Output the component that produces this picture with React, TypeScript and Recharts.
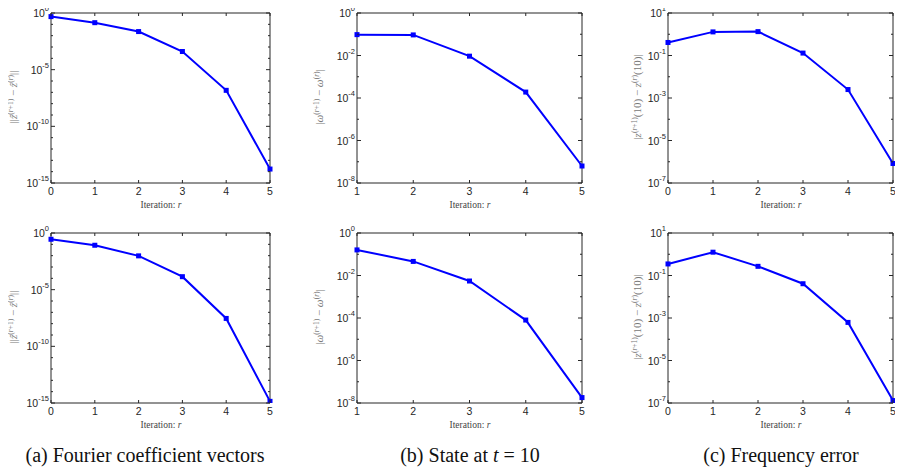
import React from "react"
import { LineChart, Line, XAxis, YAxis } from "recharts"

// iteration indices
const itersFrom0 = [0, 1, 2, 3, 4, 5]
const itersFrom1 = [1, 2, 3, 4, 5]

// top row
const fourierTop = [0.48, 0.14, 0.023, 4e-4, 1.5e-7, 1.7e-14]
const stateTop = [0.096, 0.093, 0.0093, 1.9e-4, 6.3e-8]
const freqTop = [0.41, 1.29, 1.33, 0.13, 2.5e-3, 8.3e-7]

// bottom row
const fourierBottom = [0.28, 0.083, 0.0096, 1.4e-4, 2.9e-8, 1.4e-15]
const stateBottom = [0.16, 0.046, 0.0055, 8e-5, 1.8e-8]
const freqBottom = [0.35, 1.25, 0.27, 0.041, 6.2e-4, 1.3e-7]

// y tick exponents (every decade gets a tick, only these are labelled)
const fourierExp = [0, -5, -10, -15]
const stateExp = [0, -2, -4, -6, -8]
const freqExp = [1, -1, -3, -5, -7]

const captions = ["(a) Fourier coefficient vectors", "(b) State at ", "(c) Frequency error"]

const axisColor = "#262626"
const blue = "#0000ff"
const tickFont = "'Liberation Sans', Arial, sans-serif"
const serif = "'Liberation Serif', 'Times New Roman', serif"

const decades = (hi: number, lo: number) => {
  const out: number[] = []
  for (let e = hi; e >= lo; e--) out.push(Math.pow(10, e))
  return out
}

const Square = (props: any) => {
  const { cx, cy } = props
  if (cx == null || cy == null) return null
  return <rect x={cx - 2.5} y={cy - 2.5} width={5} height={5} fill={blue} />
}

const XTick = (props: any) => {
  const { x, y, payload } = props
  return (
    <g>
      <line x1={x} x2={x} y1={y} y2={y - 3} stroke={axisColor} />
      <text x={x} y={y + 12} textAnchor="middle" fontSize={10.5} fontFamily={tickFont} fill={axisColor}>
        {payload.value}
      </text>
    </g>
  )
}

const XTickTop = (props: any) => {
  const { x, y } = props
  return <line x1={x} x2={x} y1={y} y2={y + 3} stroke={axisColor} />
}

const makeYTick = (labelled: number[]) => (props: any) => {
  const { x, y, payload } = props
  const e = Math.round(Math.log10(payload.value))
  const show = labelled.includes(e)
  return (
    <g>
      <line x1={x} x2={x + (show ? 4 : 2)} y1={y} y2={y} stroke={axisColor} />
      {show && (
        <text x={x - 2} y={y + 4} textAnchor="end" fontSize={10.5} fontFamily={tickFont} fill={axisColor}>
          10<tspan dy={-6} fontSize={7.5}>{e}</tspan>
        </text>
      )}
    </g>
  )
}

const makeYTickRight = (labelled: number[]) => (props: any) => {
  const { x, y, payload } = props
  const e = Math.round(Math.log10(payload.value))
  const show = labelled.includes(e)
  return <line x1={x} x2={x - (show ? 4 : 2)} y1={y} y2={y} stroke={axisColor} />
}

type PanelProps = {
  iters: number[]
  values: number[]
  exps: number[]
  left: number
  right: number
  top: number
}

const Panel = ({ iters, values, exps, left, right, top }: PanelProps) => {
  const yw = 51
  const xh = 20
  const plotH = 171
  const pad = 12
  const data = iters.map((r, i) => ({ r, v: values[i] }))
  const hi = exps[0]
  const lo = exps[exps.length - 1]
  const ticks = decades(hi, lo)
  const domain = [Math.pow(10, lo), Math.pow(10, hi)]
  const xDomain = [iters[0], iters[iters.length - 1]]
  return (
    <div style={{ position: "absolute", left: left - yw, top: top - pad }}>
      <LineChart
        width={yw + (right - left) + 8}
        height={pad + plotH + xh}
        data={data}
        margin={{ top: pad, right: 8, bottom: 0, left: 0 }}
      >
        <XAxis
          xAxisId="b"
          dataKey="r"
          type="number"
          domain={xDomain}
          ticks={iters}
          interval={0}
          height={xh}
          tickSize={0}
          tickMargin={0}
          tickLine={false}
          tick={<XTick />}
          axisLine={{ stroke: axisColor }}
        />
        <XAxis
          xAxisId="t"
          orientation="top"
          dataKey="r"
          type="number"
          domain={xDomain}
          ticks={iters}
          interval={0}
          height={1}
          tickSize={0}
          tickMargin={0}
          tickLine={false}
          tick={<XTickTop />}
          axisLine={{ stroke: axisColor }}
        />
        <YAxis
          yAxisId="l"
          scale="log"
          domain={domain}
          ticks={ticks}
          interval={0}
          width={yw}
          tickSize={0}
          tickMargin={0}
          tickLine={false}
          tick={makeYTick(exps)}
          axisLine={{ stroke: axisColor }}
          allowDataOverflow
        />
        <YAxis
          yAxisId="r"
          orientation="right"
          scale="log"
          domain={domain}
          ticks={ticks}
          interval={0}
          width={1}
          tickSize={0}
          tickMargin={0}
          tickLine={false}
          tick={makeYTickRight(exps)}
          axisLine={{ stroke: axisColor }}
          allowDataOverflow
        />
        {/* invisible series so the top/right frame axes are attached */}
        <Line
          xAxisId="t"
          yAxisId="r"
          dataKey="v"
          stroke="none"
          dot={false}
          activeDot={false}
          isAnimationActive={false}
        />
        <Line
          xAxisId="b"
          yAxisId="l"
          dataKey="v"
          stroke={blue}
          strokeWidth={2}
          dot={<Square />}
          isAnimationActive={false}
        />
      </LineChart>
    </div>
  )
}

const Sup = ({ children }: { children: React.ReactNode }) => (
  <sup style={{ fontSize: 7.5, verticalAlign: 4 }}>{children}</sup>
)

const YLabel = ({ x, cy, children }: { x: number; cy: number; children: React.ReactNode }) => (
  <div
    style={{
      position: "absolute",
      left: x,
      top: cy,
      transform: "translate(-50%, -50%) rotate(-90deg)",
      whiteSpace: "nowrap",
      fontFamily: serif,
      fontSize: 11,
      color: "#777",
      lineHeight: "12px",
    }}
  >
    {children}
  </div>
)

const XLabel = ({ cx, cy }: { cx: number; cy: number }) => (
  <div
    style={{
      position: "absolute",
      left: cx,
      top: cy,
      transform: "translate(-50%, -50%)",
      whiteSpace: "nowrap",
      fontFamily: serif,
      fontSize: 9.5,
      color: "#444",
    }}
  >
    Iteration: <i>r</i>
  </div>
)

const cols = [
  { left: 51, right: 271, ylx: 12 },
  { left: 357, right: 583, ylx: 318 },
  { left: 668, right: 894, ylx: 636 },
]
const rows = [12, 232]

export default function App() {
  const zLabel = (
    <span>
      ||<i>ẑ</i><Sup>(<i>r</i>+1)</Sup> − <i>ẑ</i><Sup>(<i>r</i>)</Sup>||
    </span>
  )
  const wLabel = (
    <span>
      |<i>ω</i><Sup>(<i>r</i>+1)</Sup> − <i>ω</i><Sup>(<i>r</i>)</Sup>|
    </span>
  )
  const fLabel = (
    <span>
      |<i>z</i><Sup>(<i>r</i>+1)</Sup>(10) − <i>z</i><Sup>(<i>r</i>)</Sup>(10)|
    </span>
  )
  const series = [
    [fourierTop, stateTop, freqTop],
    [fourierBottom, stateBottom, freqBottom],
  ]
  const itersByCol = [itersFrom0, itersFrom1, itersFrom0]
  const expsByCol = [fourierExp, stateExp, freqExp]
  const labels = [zLabel, wLabel, fLabel]

  return (
    <div style={{ position: "relative", width: 903, height: 475, margin: -8, background: "#fff", overflow: "hidden" }}>
      {rows.map((top, ri) =>
        cols.map((c, ci) => (
          <React.Fragment key={`${ri}-${ci}`}>
            <Panel
              iters={itersByCol[ci]}
              values={series[ri][ci]}
              exps={expsByCol[ci]}
              left={c.left}
              right={c.right}
              top={top}
            />
            <YLabel x={c.ylx} cy={top + 85}>{labels[ci]}</YLabel>
            <XLabel cx={(c.left + c.right) / 2} cy={top + 193} />
          </React.Fragment>
        ))
      )}
      {cols.map((c, ci) => (
        <div
          key={`cap-${ci}`}
          style={{
            position: "absolute",
            left: (c.left + c.right) / 2 - (ci === 0 ? 16 : 0),
            top: 455,
            transform: "translate(-50%, -50%)",
            whiteSpace: "nowrap",
            fontFamily: serif,
            fontSize: 20,
            color: "#111",
          }}
        >
          {captions[ci]}
          {ci === 1 && (
            <span>
              <i>t</i> = 10
            </span>
          )}
        </div>
      ))}
    </div>
  )
}
